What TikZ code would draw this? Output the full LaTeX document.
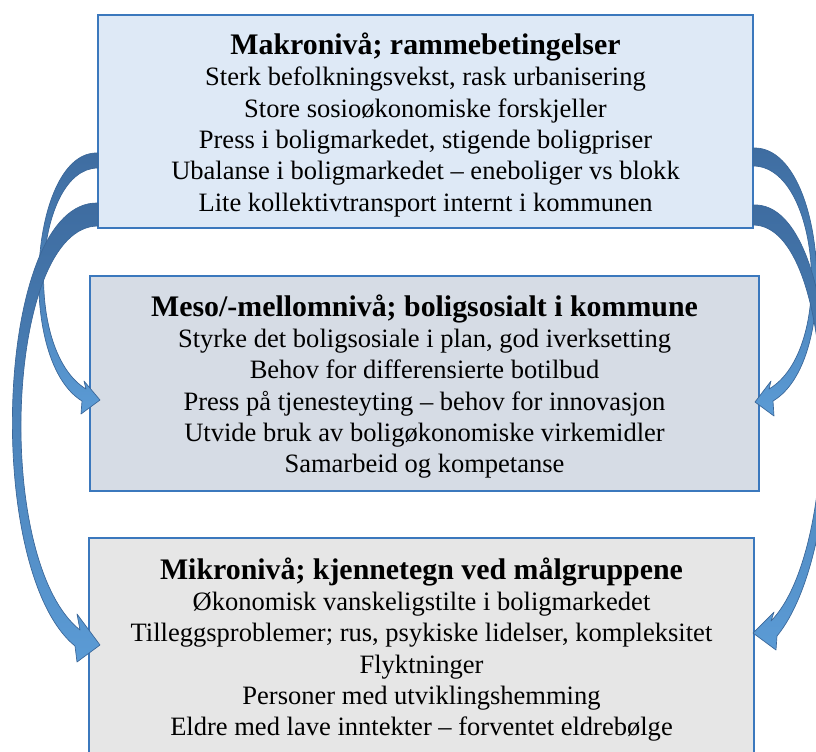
\documentclass[tikz,border=0pt]{standalone}
\usepackage{fontspec}
\setmainfont{Liberation Serif}
\usepackage{tikz}
\usetikzlibrary{calc}
\definecolor{BoxBlue}{RGB}{59,120,189}
\definecolor{MakroFill}{RGB}{222,233,246}
\definecolor{MesoFill}{RGB}{214,220,229}
\definecolor{MikroFill}{RGB}{230,230,230}
\definecolor{ArrowDark}{RGB}{62,108,160}
\definecolor{ArrowLight}{RGB}{91,155,213}
\definecolor{ArrowLine}{RGB}{58,102,152}

\tikzset{
	levelbox/.style={rectangle, draw=BoxBlue, line width=2pt, inner sep=0pt, outer sep=0pt},
	leveltext/.style={align=center, inner sep=0pt, font=\fontsize{19.9}{23.5}\selectfont},
	ribbon/.style={top color=ArrowDark, bottom color=ArrowLight, draw=ArrowLine,
		line width=0.5pt, line join=round}
}

\begin{document}
\begin{tikzpicture}[x=0.75pt, y=-0.75pt]
	\useasboundingbox (0,0) rectangle (816,751);
	\clip (0,0) rectangle (816,751);
	
	% tre nivaa
	\node[levelbox, fill=MakroFill, minimum width=491.25pt, minimum height=159.75pt] (makro) at (425.5,121.5) {};
	\node[levelbox, fill=MesoFill, minimum width=501.75pt, minimum height=161.25pt] (meso) at (424.5,383.5) {};
	\node[levelbox, fill=MikroFill, minimum width=498.75pt, minimum height=162.75pt] (mikro) at (421.5,646.5) {};
	
	\node[leveltext] (makrotext) at ($(makro)+(0,3.5)$)
		{{\bfseries\fontsize{22.4}{23.5}\selectfont Makronivå; rammebetingelser}\\
		Sterk befolkningsvekst, rask urbanisering\\
		Store sosioøkonomiske forskjeller\\
		Press i boligmarkedet, stigende boligpriser\\
		Ubalanse i boligmarkedet – eneboliger vs blokk\\
		Lite kollektivtransport internt i kommunen};
	\node[leveltext] (mesotext) at ($(meso)+(0,3)$)
		{{\bfseries\fontsize{22.4}{23.5}\selectfont Meso/-mellomnivå; boligsosialt i kommune}\\
		Styrke det boligsosiale i plan, god iverksetting\\
		Behov for differensierte botilbud\\
		Press på tjenesteyting – behov for innovasjon\\
		Utvide bruk av boligøkonomiske virkemidler\\
		Samarbeid og kompetanse};
	\node[leveltext] (mikrotext) at ($(mikro)+(0,3)$)
		{{\bfseries\fontsize{22.4}{23.5}\selectfont Mikronivå; kjennetegn ved målgruppene}\\
		Økonomisk vanskeligstilte i boligmarkedet\\
		Tilleggsproblemer; rus, psykiske lidelser, kompleksitet\\
		Flyktninger\\
		Personer med utviklingshemming\\
		Eldre med lave inntekter – forventet eldrebølge};
	
	% venstre piler
	\coordinate (a1s1) at ($(makro.west)+(0,31.5)$);
	\coordinate (a1s2) at ($(makro.west)+(0,46.5)$);
	\coordinate (a1t) at ($(meso.west)+(10,16.5)$);
	\draw[ribbon] (a1s1) .. controls (30,150) and (15,360) .. ($(a1t)+(-18,1)$)
		-- ($(a1t)+(-19,14)$) -- (a1t) -- ($(a1t)+(-16,-19)$) -- ($(a1t)+(-14,-11)$)
		.. controls (22,350) and (34,168) .. (a1s2) -- cycle;
	
	\coordinate (a2s1) at ($(makro.west)+(0,81.5)$);
	\coordinate (a2s2) at ($(makro.west)+(0,104.5)$);
	\coordinate (a2t) at ($(mikro.west)+(11,-1.5)$);
	\draw[ribbon] (a2s1) .. controls (-5,200) and (-18,570) .. ($(a2t)+(-25,1)$)
		-- ($(a2t)+(-23,17)$) -- (a2t) -- ($(a2t)+(-23,-31)$) -- ($(a2t)+(-20,-15)$)
		.. controls (-8,560) and (6,226) .. (a2s2) -- cycle;
	
	% hoyre piler
	\coordinate (a3s1) at ($(makro.east)+(0,26.5)$);
	\coordinate (a3s2) at ($(makro.east)+(0,44.5)$);
	\coordinate (a3t) at ($(meso.east)+(-4,18.5)$);
	\draw[ribbon] (a3s1) .. controls (825,145) and (842,360) .. ($(a3t)+(18,-1)$)
		-- ($(a3t)+(19,14)$) -- (a3t) -- ($(a3t)+(16,-21)$) -- ($(a3t)+(14,-13)$)
		.. controls (835,350) and (820,166) .. (a3s2) -- cycle;
	
	\coordinate (a4s1) at ($(makro.east)+(0,83.5)$);
	\coordinate (a4s2) at ($(makro.east)+(0,103.5)$);
	\coordinate (a4t) at ($(mikro.east)+(-1,-13.5)$);
	\draw[ribbon] (a4s1) .. controls (845,200) and (855,540) .. ($(a4t)+(24,3)$)
		-- ($(a4t)+(23,17)$) -- (a4t) -- ($(a4t)+(21,-21)$) -- ($(a4t)+(18,-12)$)
		.. controls (845,545) and (838,225) .. (a4s2) -- cycle;
\end{tikzpicture}
\end{document}
